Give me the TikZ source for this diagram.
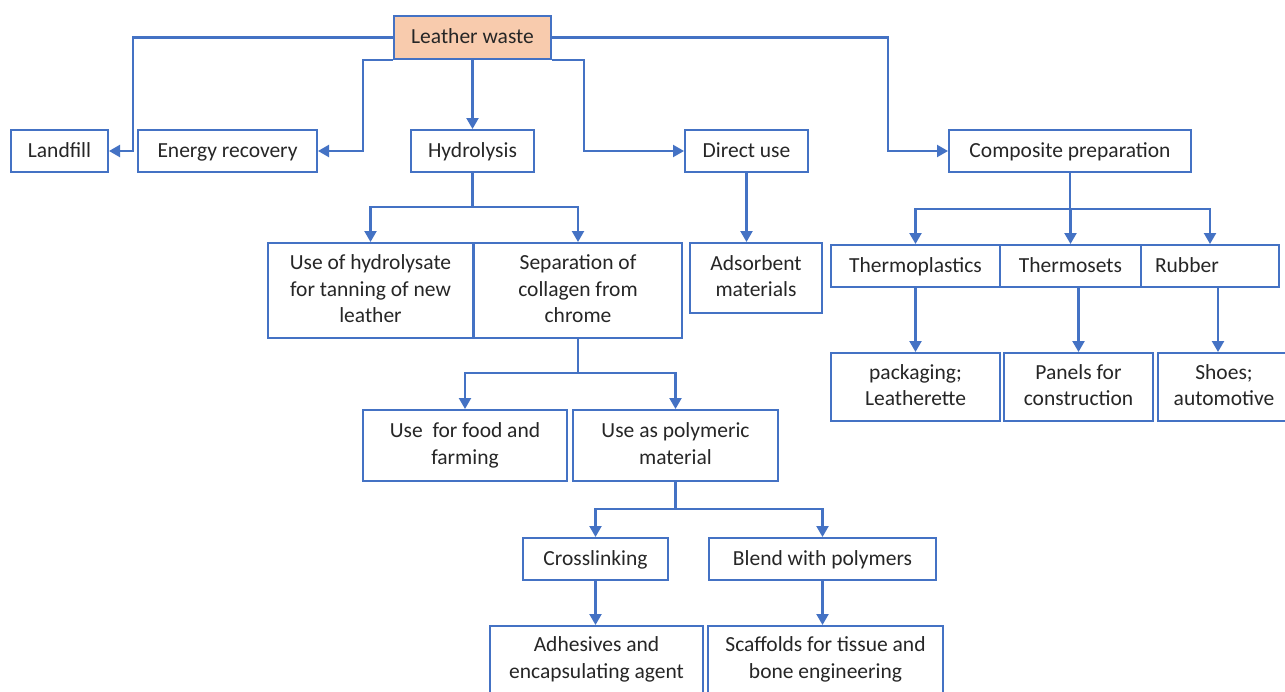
\documentclass[tikz,border=0pt]{standalone}
\usepackage{fontspec}
\setmainfont{Carlito}
\usetikzlibrary{arrows.meta}
\definecolor{bl}{HTML}{4472C4}
\definecolor{peach}{HTML}{F8CBAD}
\definecolor{txt}{HTML}{262626}
\newcommand\mstrut{\rule[-0.17em]{0pt}{1.22em}}
\newcommand\sstrut{\rule[-0.31em]{0pt}{1.22em}}
\begin{document}
\begin{tikzpicture}[x=1pt,y=1pt,
 basebox/.style={draw=bl, line width=2pt, inner sep=0pt, align=center, text=txt,
   font=\fontsize{21.5}{26.5}\selectfont},
 box/.style={basebox, execute at begin node=\mstrut, execute at end node=\mstrut},
 sbox/.style={basebox, execute at begin node=\sstrut, execute at end node=\sstrut},
 ln/.style={draw=bl, line width=2.2pt},
 arr/.style={ln, -{Triangle[length=11pt,width=12pt]}}]
\clip (0,0) rectangle (1285,-691);
\fill[white] (0,0) rectangle (1285,-691);

\node[sbox, fill=peach, minimum width=157, minimum height=43] (lw) at (472.5,-37.5) {Leather waste};
\node[sbox, minimum width=97, minimum height=42] (lf) at (59.5,-151) {Landfill};
\node[sbox, minimum width=179, minimum height=42] (er) at (227.5,-151) {Energy recovery};
\node[sbox, minimum width=123, minimum height=42] (hy) at (472.5,-151) {Hydrolysis};
\node[sbox, minimum width=123, minimum height=42] (du) at (746.5,-151) {Direct use};
\node[sbox, minimum width=242, minimum height=42] (cp) at (1070,-151) {Composite preparation};

\node[box, minimum width=205, minimum height=95] (uh) at (370.5,-290.5) {Use of hydrolysate\\for tanning of new\\leather};
\node[box, minimum width=208, minimum height=95] (sep) at (578,-290.5) {Separation of\\collagen from\\chrome};
\node[box, minimum width=132, minimum height=70] (ads) at (756,-278) {Adsorbent\\materials};
\node[box, minimum width=204, minimum height=71] (food) at (465,-445.5) {Use\ \ for food and\\farming};
\node[box, minimum width=205, minimum height=71] (poly) at (675.5,-445.5) {Use as polymeric\\material};
\node[sbox, minimum width=145, minimum height=42] (cross) at (595.5,-559) {Crosslinking};
\node[sbox, minimum width=227, minimum height=42] (blend) at (822.5,-559) {Blend with polymers};
\node[box, minimum width=213, minimum height=67] (adh) at (596.5,-659.5) {Adhesives and\\encapsulating agent};
\node[box, minimum width=235, minimum height=67] (scf) at (825.5,-659.5) {Scaffolds for tissue and\\bone engineering};

\node[sbox, minimum width=169, minimum height=42] (tp) at (915.5,-266) {Thermoplastics};
\node[sbox, minimum width=141, minimum height=42] (ts) at (1070.5,-266) {Thermosets};
\node[sbox, text width=110pt, inner xsep=14pt, align=left, minimum height=42] (rb) at (1210,-266) {Rubber};
\node[box, minimum width=169, minimum height=68] (pk) at (915.5,-387) {packaging;\\Leatherette};
\node[box, minimum width=149, minimum height=68] (pn) at (1078.5,-387) {Panels for\\construction};
\node[box, minimum width=132, minimum height=68] (sh) at (1224,-387) {Shoes;\\automotive};

\coordinate (b1) at (133,-100);
\coordinate (b2) at (363,-100);
\coordinate (b3) at (584,-100);
\coordinate (b4) at (888,-100);
\draw[arr] (lw.west) -| (b1) |- (lf.east);
\draw[arr] (lw.south west) -| (b2) |- (er.east);
\draw[arr] (lw.south) -- (hy.north);
\draw[arr] (lw.south east) -| (b3) |- (du.west);
\draw[arr] (lw.east) -| (b4) |- (cp.west);

\coordinate (j1) at (472.5,-207);
\draw[ln] (hy.south) -- (j1);
\draw[arr] (j1) -| (uh.north);
\draw[arr] (j1) -| (sep.north);
\draw[arr] (du.south) -- (du.south |- ads.north);

\coordinate (j2) at (578,-373);
\draw[ln] (sep.south) -- (j2);
\draw[arr] (j2) -| (food.north);
\draw[arr] (j2) -| (poly.north);

\coordinate (j3) at (675.5,-509);
\draw[ln] (poly.south) -- (j3);
\draw[arr] (j3) -| (cross.north);
\draw[arr] (j3) -| (blend.north);
\draw[arr] (cross.south) -- (cross.south |- adh.north);
\draw[arr] (blend.south) -- (blend.south |- scf.north);

\coordinate (j4) at (1070,-209);
\draw[ln] (cp.south) -- (j4);
\draw[arr] (j4) -| (tp.north);
\draw[arr] (j4) -| (ts.north);
\draw[arr] (j4) -| (rb.north);
\draw[arr] (tp.south) -- (tp.south |- pk.north);
\draw[arr] (pn.north |- ts.south) -- (pn.north);
\draw[arr] ([xshift=8pt]rb.south) -- ([xshift=8pt]rb.south |- sh.north);
\end{tikzpicture}
\end{document}
